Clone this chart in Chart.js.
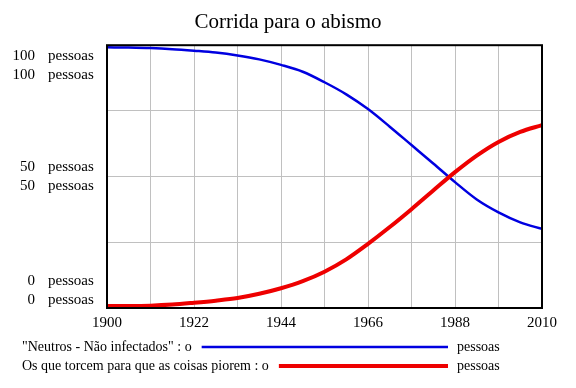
<!DOCTYPE html>
<html>
<head>
<meta charset="utf-8">
<script src="https://cdn.jsdelivr.net/npm/chart.js@4/dist/chart.umd.min.js"></script>
<style>
  html, body { margin: 0; padding: 0; background: #fff; }
  #wrap { width: 576px; height: 388px; }
</style>
</head>
<body>
<div id="wrap"><canvas id="lineChart" width="576" height="388"></canvas></div>
<script>
// data (every 5.5 years)
var years = [1900, 1905.5, 1911, 1916.5, 1922, 1927.5, 1933, 1938.5, 1944, 1949.5, 1955,
             1960.5, 1966, 1971.5, 1977, 1982.5, 1988, 1993.5, 1999, 2004.5, 2010];
var neutros = [99.2, 99.1, 98.9, 98.5, 97.9, 97.2, 96.1, 94.6, 92.5, 89.9, 85.9,
               81.3, 75.7, 69.0, 62.0, 55.0, 47.9, 41.3, 36.4, 32.6, 30.1];
var torcem = [0.8, 0.8, 0.9, 1.3, 2.0, 2.8, 3.8, 5.4, 7.5, 10.2, 13.8,
              18.5, 24.4, 30.8, 37.6, 44.7, 51.7, 58.0, 63.2, 67.0, 69.6];
var seriesNames = ['"Neutros - Não infectados" : o', 'Os que torcem para que as coisas piorem : o'];
var xLabels = [1900, 1922, 1944, 1966, 1988, 2010];
var yLabels = [100, 50, 0];
var unit = 'pessoas';

var serif = "'Liberation Serif', 'Times New Roman', serif";

function toPoints(values) {
    return years.map(function (yr, i) { return { x: yr, y: values[i] }; });
}

// y labels, frame and bottom legend, Vensim style
var vensimExtras = {
    id: 'vensimExtras',
    afterDraw: function (chart) {
        var ctx = chart.ctx;
        var area = chart.chartArea;
        var yScale = chart.scales.y;
        ctx.save();
        ctx.fillStyle = '#000';
        ctx.font = '15px ' + serif;
        ctx.textBaseline = 'middle';

        yLabels.forEach(function (v) {
            var py = yScale.getPixelForValue(v);
            var c = Math.min(Math.max(py, area.top + 20), area.bottom - 17.5);
            [c - 9.5, c + 9.5].forEach(function (ty) {
                ctx.textAlign = 'right';
                ctx.fillText(String(v), 35, ty);
                ctx.textAlign = 'left';
                ctx.fillText(unit, 48, ty);
            });
        });

        // frame
        ctx.strokeStyle = '#000';
        ctx.lineWidth = 2;
        ctx.strokeRect(area.left, area.top, area.right - area.left, area.bottom - area.top);

        // legend
        ctx.font = '14px ' + serif;
        chart.data.datasets.forEach(function (ds, i) {
            var ly = 347 + i * 19;
            ctx.textAlign = 'left';
            ctx.fillStyle = '#000';
            ctx.fillText(ds.label, 22, ly);
            var x0 = 22 + ctx.measureText(ds.label).width + 10;
            ctx.beginPath();
            ctx.strokeStyle = ds.borderColor;
            ctx.lineWidth = ds.borderWidth;
            ctx.moveTo(x0, ly);
            ctx.lineTo(448, ly);
            ctx.stroke();
            ctx.fillText(unit, 457, ly);
        });
        ctx.restore();
    }
};

var ctx = document.getElementById('lineChart').getContext('2d');
var chart = new Chart(ctx, {
    type: 'line',
    data: {
        datasets: [
            {
                label: seriesNames[0],
                data: toPoints(neutros),
                borderColor: '#0000e0',
                borderWidth: 2.5,
                pointRadius: 0,
                cubicInterpolationMode: 'monotone',
                order: 1
            },
            {
                label: seriesNames[1],
                data: toPoints(torcem),
                borderColor: '#ee0000',
                borderWidth: 4,
                pointRadius: 0,
                cubicInterpolationMode: 'monotone',
                order: 0
            }
        ]
    },
    options: {
        responsive: false,
        animation: false,
        layout: { padding: { left: 0, right: 0, top: 0, bottom: 50 } },
        plugins: {
            legend: { display: false },
            tooltip: { enabled: false },
            title: {
                display: true,
                text: 'Corrida para o abismo',
                color: '#000',
                font: { family: serif, size: 21, weight: 'normal' },
                padding: { top: 10, bottom: 10 }
            }
        },
        scales: {
            x: {
                type: 'linear',
                min: 1900,
                max: 2010,
                border: { display: false },
                grid: { color: '#c0c0c0', lineWidth: 1, drawTicks: false },
                ticks: {
                    stepSize: 11,
                    autoSkip: false,
                    maxRotation: 0,
                    padding: 6,
                    color: '#000',
                    font: { family: serif, size: 15 },
                    callback: function (v) {
                        return xLabels.indexOf(v) >= 0 ? String(v) : '';
                    }
                }
            },
            y: {
                min: 0,
                max: 100,
                border: { display: false },
                grid: { color: '#c0c0c0', lineWidth: 1, drawTicks: false },
                ticks: { display: false, stepSize: 25 },
                afterFit: function (scale) { scale.width = 107; }
            },
            yRight: {
                position: 'right',
                min: 0,
                max: 100,
                border: { display: false },
                grid: { display: false, drawTicks: false },
                ticks: { display: false },
                afterFit: function (scale) { scale.width = 34; }
            }
        }
    },
    plugins: [vensimExtras]
});
</script>
</body>
</html>
